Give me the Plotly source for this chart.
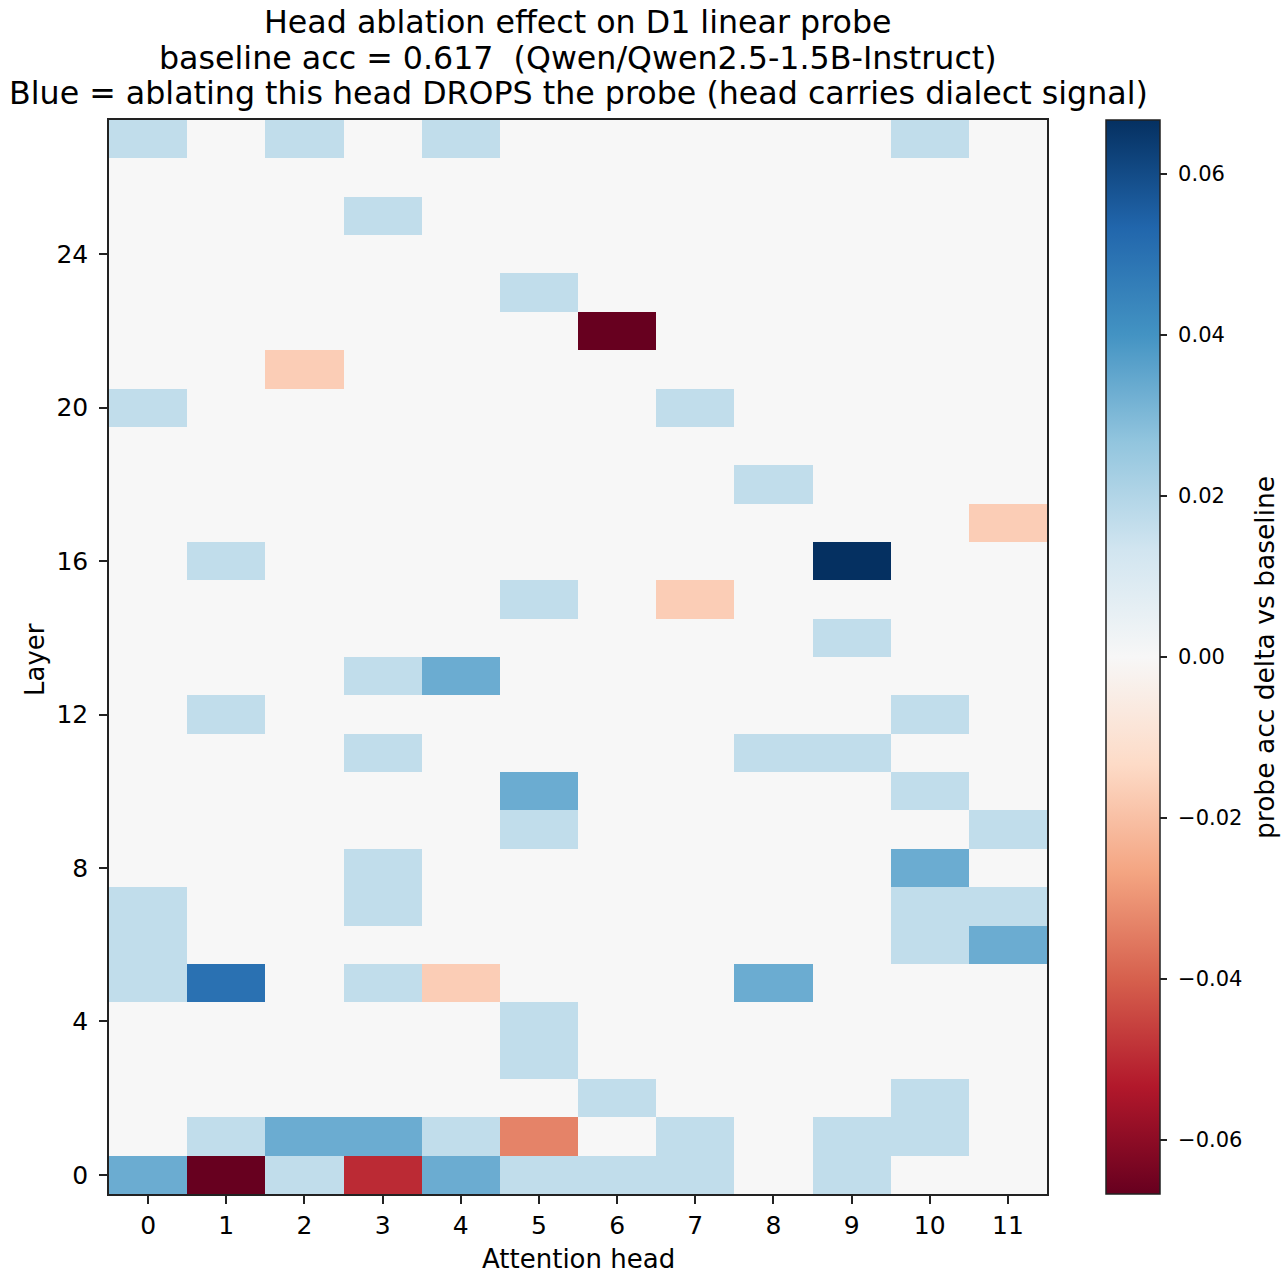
import plotly.graph_objects as go
import plotly.express as px

heads = list(range(12))
layers = list(range(28))

# probe accuracy delta per (layer, head); rows = layer 0..27, cols = head 0..11
L0 = [0.0333, -0.0667, 0.0167, -0.05, 0.0333, 0.0167, 0.0167, 0.0167, 0, 0.0167, 0, 0]
L1 = [0, 0.0167, 0.0333, 0.0333, 0.0167, -0.0333, 0, 0.0167, 0, 0.0167, 0.0167, 0]
L2 = [0, 0, 0, 0, 0, 0, 0.0167, 0, 0, 0, 0.0167, 0]
L3 = [0, 0, 0, 0, 0, 0.0167, 0, 0, 0, 0, 0, 0]
L4 = [0, 0, 0, 0, 0, 0.0167, 0, 0, 0, 0, 0, 0]
L5 = [0.0167, 0.05, 0, 0.0167, -0.0167, 0, 0, 0, 0.0333, 0, 0, 0]
L6 = [0.0167, 0, 0, 0, 0, 0, 0, 0, 0, 0, 0.0167, 0.0333]
L7 = [0.0167, 0, 0, 0.0167, 0, 0, 0, 0, 0, 0, 0.0167, 0.0167]
L8 = [0, 0, 0, 0.0167, 0, 0, 0, 0, 0, 0, 0.0333, 0]
L9 = [0, 0, 0, 0, 0, 0.0167, 0, 0, 0, 0, 0, 0.0167]
L10 = [0, 0, 0, 0, 0, 0.0333, 0, 0, 0, 0, 0.0167, 0]
L11 = [0, 0, 0, 0.0167, 0, 0, 0, 0, 0.0167, 0.0167, 0, 0]
L12 = [0, 0.0167, 0, 0, 0, 0, 0, 0, 0, 0, 0.0167, 0]
L13 = [0, 0, 0, 0.0167, 0.0333, 0, 0, 0, 0, 0, 0, 0]
L14 = [0, 0, 0, 0, 0, 0, 0, 0, 0, 0.0167, 0, 0]
L15 = [0, 0, 0, 0, 0, 0.0167, 0, -0.0167, 0, 0, 0, 0]
L16 = [0, 0.0167, 0, 0, 0, 0, 0, 0, 0, 0.0667, 0, 0]
L17 = [0, 0, 0, 0, 0, 0, 0, 0, 0, 0, 0, -0.0167]
L18 = [0, 0, 0, 0, 0, 0, 0, 0, 0.0167, 0, 0, 0]
L19 = [0, 0, 0, 0, 0, 0, 0, 0, 0, 0, 0, 0]
L20 = [0.0167, 0, 0, 0, 0, 0, 0, 0.0167, 0, 0, 0, 0]
L21 = [0, 0, -0.0167, 0, 0, 0, 0, 0, 0, 0, 0, 0]
L22 = [0, 0, 0, 0, 0, 0, -0.0667, 0, 0, 0, 0, 0]
L23 = [0, 0, 0, 0, 0, 0.0167, 0, 0, 0, 0, 0, 0]
L24 = [0, 0, 0, 0, 0, 0, 0, 0, 0, 0, 0, 0]
L25 = [0, 0, 0, 0.0167, 0, 0, 0, 0, 0, 0, 0, 0]
L26 = [0, 0, 0, 0, 0, 0, 0, 0, 0, 0, 0, 0]
L27 = [0.0167, 0, 0.0167, 0, 0.0167, 0, 0, 0, 0, 0, 0.0167, 0]

z = [L0, L1, L2, L3, L4, L5, L6, L7, L8, L9, L10, L11, L12, L13,
     L14, L15, L16, L17, L18, L19, L20, L21, L22, L23, L24, L25, L26, L27]

vlim = 0.0667
cb_ticks = [-0.06, -0.04, -0.02, 0.0, 0.02, 0.04, 0.06]
cb_text = ["\u22120.06", "\u22120.04", "\u22120.02", "0.00", "0.02", "0.04", "0.06"]
x_ticks = heads
y_ticks = [0, 4, 8, 12, 16, 20, 24]

title_lines = [
    "Head ablation effect on D1 linear probe",
    "baseline acc = 0.617  (Qwen/Qwen2.5-1.5B-Instruct)",
    "Blue = ablating this head DROPS the probe (head carries dialect signal)",
]
cbar_label = "probe acc delta vs baseline"

rdbu = px.colors.diverging.RdBu  # red (low) -> blue (high)
n = len(rdbu)
colorscale = [[i / (n - 1), c] for i, c in enumerate(rdbu)]

W, H = 1284, 1274
ml, mt = 109, 120
pr, pb = 1047, 1194
mr, mb = W - pr, H - pb
pw, ph = pr - ml, pb - mt


def px_x(xs):
    return (xs - ml) / pw


def px_y(ys):
    return 1 - (ys - mt) / ph


NB = "\u00a0"
fig = go.Figure(go.Heatmap(
    z=z, x=heads, y=layers,
    zmin=-vlim, zmax=vlim, colorscale=colorscale,
    colorbar=dict(
        x=px_x(1106), xanchor="left", xref="paper", xpad=0, ypad=0,
        y=0.5, yanchor="middle", len=1.0, lenmode="fraction",
        thickness=54, thicknessmode="pixels",
        outlinecolor="#222222", outlinewidth=1.5,
        tickvals=cb_ticks, ticktext=[NB + t for t in cb_text],
        ticks="outside", ticklen=7, tickwidth=1.5, tickcolor="#222222",
        tickfont=dict(size=21, color="black"),
    ),
))

axis_common = dict(
    showline=True, linecolor="#222222", linewidth=1.5, mirror=True,
    ticks="outside", ticklen=8, tickwidth=1.5, tickcolor="#222222",
    tickfont=dict(size=25, color="black"), showgrid=False, zeroline=False,
)

fig.update_xaxes(range=[-0.5, 11.5], tickvals=x_ticks, **axis_common)
fig.update_yaxes(range=[-0.5, 27.5], tickvals=y_ticks, ticklabelstandoff=6, **axis_common)

annotations = []
for txt, yc in zip(title_lines, [22, 58, 93]):
    annotations.append(dict(text=txt, x=px_x(578), y=px_y(yc), xref="paper", yref="paper",
                            xanchor="center", yanchor="middle", showarrow=False,
                            font=dict(size=31.7, color="black")))
annotations.append(dict(text="Attention head", x=px_x(578), y=px_y(1259), xref="paper", yref="paper",
                        xanchor="center", yanchor="middle", showarrow=False,
                        font=dict(size=26, color="black")))
annotations.append(dict(text="Layer", x=px_x(35), y=px_y(660), xref="paper", yref="paper",
                        xanchor="center", yanchor="middle", showarrow=False, textangle=-90,
                        font=dict(size=26, color="black")))
annotations.append(dict(text=cbar_label, x=px_x(1264), y=px_y(658), xref="paper", yref="paper",
                        xanchor="center", yanchor="middle", showarrow=False, textangle=-90,
                        font=dict(size=26.5, color="black")))

fig.update_layout(
    width=W, height=H,
    margin=dict(l=ml, r=mr, t=mt, b=mb, autoexpand=False),
    paper_bgcolor="white", plot_bgcolor="white",
    font=dict(family="DejaVu Sans", color="black"),
    annotations=annotations,
)

fig.write_html(
    "out.html",
    config={"displayModeBar": False},
    post_script="document.body.style.margin='0px';document.body.style.overflow='hidden';",
)
